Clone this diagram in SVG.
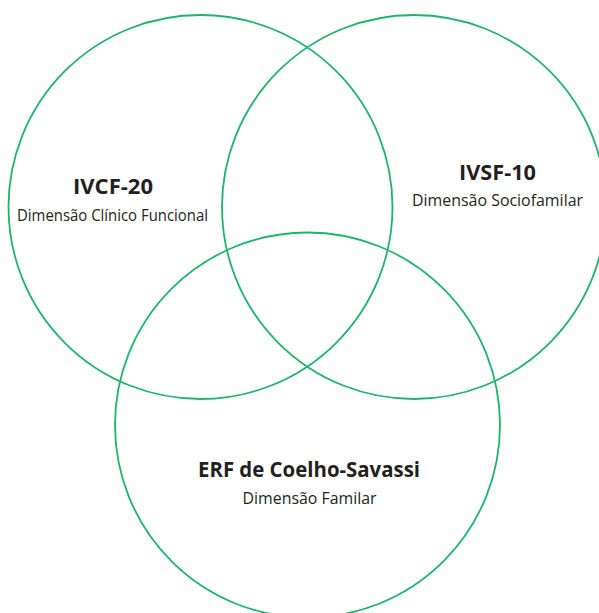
<svg xmlns="http://www.w3.org/2000/svg" width="599" height="613" viewBox="0 0 599 613">
<style>
.c{fill:none;stroke:#1fb46b;stroke-width:1.8}
.t{font-family:"Open Sans","Liberation Sans",sans-serif;fill:#231f20;text-anchor:middle}
.b{font-weight:bold;font-size:21px}
.r{font-size:16.5px}
</style>
<rect width="599" height="613" fill="#fff"/>
<g id="ivcf">
<circle class="c" cx="200.5" cy="207" r="192"/>
<text class="t b" x="113" y="194" textLength="80" lengthAdjust="spacingAndGlyphs">IVCF-20</text>
<text class="t r" x="112.5" y="221" textLength="191" lengthAdjust="spacingAndGlyphs">Dimensão Clínico Funcional</text>
</g>
<g id="ivsf">
<circle class="c" cx="414" cy="207" r="192"/>
<text class="t b" x="497.5" y="180" textLength="77" lengthAdjust="spacingAndGlyphs">IVSF-10</text>
<text class="t r" x="497.5" y="206" textLength="171" lengthAdjust="spacingAndGlyphs">Dimensão Sociofamilar</text>
</g>
<g id="erf">
<circle class="c" cx="307.5" cy="425" r="192.5"/>
<text class="t b" x="309" y="477" textLength="222" lengthAdjust="spacingAndGlyphs">ERF de Coelho-Savassi</text>
<text class="t r" x="309.5" y="504" textLength="134" lengthAdjust="spacingAndGlyphs">Dimensão Familar</text>
</g>
<g id="connectors"/>
</svg>
